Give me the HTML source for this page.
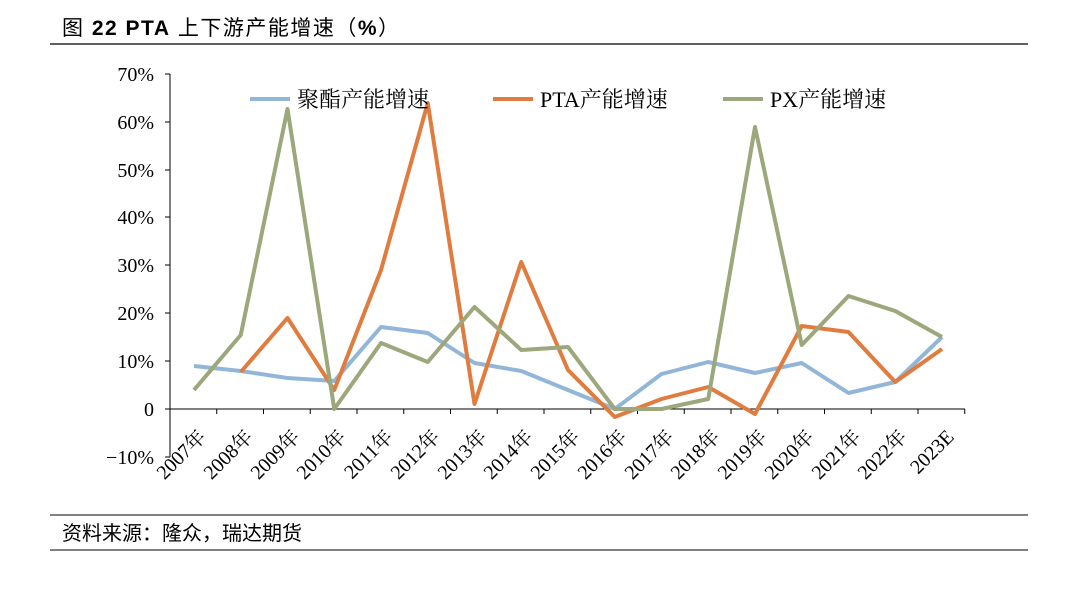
<!DOCTYPE html>
<html><head><meta charset="utf-8"><style>
body{margin:0;background:#fff;width:1080px;height:596px;overflow:hidden}
svg{display:block}
</style></head><body>
<svg width="1080" height="596" xmlns="http://www.w3.org/2000/svg">
<text x="62" y="35" font-family="Liberation Sans, Noto Sans CJK SC, sans-serif" font-size="21" letter-spacing="1.5" fill="#000">图 <tspan font-weight="bold">22</tspan>    <tspan font-weight="bold">PTA</tspan> 上下游产能增速（<tspan font-weight="bold">%</tspan>）</text>
<line x1="50" y1="44" x2="1028" y2="44" stroke="#000" stroke-width="1.2"/>
<line x1="50" y1="515" x2="1028" y2="515" stroke="#000" stroke-width="1"/>
<line x1="50" y1="550" x2="1028" y2="550" stroke="#000" stroke-width="1"/>
<text x="62" y="540" font-family="Liberation Sans, Noto Sans CJK SC, sans-serif" font-size="20" fill="#000">资料来源：隆众，瑞达期货</text>
<g font-family="Liberation Serif, Noto Serif CJK SC, serif" font-size="20" fill="#000" text-anchor="end">
<text x="154" y="81">70%</text><text x="154" y="129">60%</text><text x="154" y="177">50%</text>
<text x="154" y="224">40%</text><text x="154" y="272">30%</text><text x="154" y="320">20%</text>
<text x="154" y="368">10%</text><text x="154" y="416">0</text><text x="154" y="464">−10%</text>
</g>
<g stroke="#000" stroke-width="1">
<line x1="170" y1="74" x2="170" y2="457"/>
<line x1="170" y1="409" x2="965" y2="409"/>
<line x1="165" y1="74" x2="170" y2="74"/><line x1="165" y1="122" x2="170" y2="122"/><line x1="165" y1="170" x2="170" y2="170"/><line x1="165" y1="217" x2="170" y2="217"/><line x1="165" y1="265" x2="170" y2="265"/><line x1="165" y1="313" x2="170" y2="313"/><line x1="165" y1="361" x2="170" y2="361"/><line x1="165" y1="409" x2="170" y2="409"/><line x1="165" y1="457" x2="170" y2="457"/>
<line x1="216.75" y1="409" x2="216.75" y2="414"/><line x1="263.5" y1="409" x2="263.5" y2="414"/><line x1="310.25" y1="409" x2="310.25" y2="414"/><line x1="357" y1="409" x2="357" y2="414"/><line x1="403.75" y1="409" x2="403.75" y2="414"/><line x1="450.5" y1="409" x2="450.5" y2="414"/><line x1="497.25" y1="409" x2="497.25" y2="414"/><line x1="544" y1="409" x2="544" y2="414"/><line x1="590.75" y1="409" x2="590.75" y2="414"/><line x1="637.5" y1="409" x2="637.5" y2="414"/><line x1="684.25" y1="409" x2="684.25" y2="414"/><line x1="731" y1="409" x2="731" y2="414"/><line x1="777.75" y1="409" x2="777.75" y2="414"/><line x1="824.5" y1="409" x2="824.5" y2="414"/><line x1="871.25" y1="409" x2="871.25" y2="414"/><line x1="918" y1="409" x2="918" y2="414"/><line x1="964.75" y1="409" x2="964.75" y2="414"/>
</g>
<g font-family="Liberation Serif, Noto Serif CJK SC, serif" font-size="20" fill="#000" text-anchor="end">
<text transform="translate(207,438) rotate(-45)">2007年</text>
<text transform="translate(254,438) rotate(-45)">2008年</text>
<text transform="translate(301,438) rotate(-45)">2009年</text>
<text transform="translate(347,438) rotate(-45)">2010年</text>
<text transform="translate(394,438) rotate(-45)">2011年</text>
<text transform="translate(441,438) rotate(-45)">2012年</text>
<text transform="translate(488,438) rotate(-45)">2013年</text>
<text transform="translate(534,438) rotate(-45)">2014年</text>
<text transform="translate(581,438) rotate(-45)">2015年</text>
<text transform="translate(628,438) rotate(-45)">2016年</text>
<text transform="translate(675,438) rotate(-45)">2017年</text>
<text transform="translate(721,438) rotate(-45)">2018年</text>
<text transform="translate(768,438) rotate(-45)">2019年</text>
<text transform="translate(815,438) rotate(-45)">2020年</text>
<text transform="translate(862,438) rotate(-45)">2021年</text>
<text transform="translate(908,438) rotate(-45)">2022年</text>
<text transform="translate(955,438) rotate(-45)">2023E</text>
</g>
<g fill="none" stroke-width="4" stroke-linejoin="round">
<polyline stroke="#92b6d8" points="194,366 240.75,371 287.5,378 334.25,381 381,327 427.75,333 474.5,363 521.25,371 568,390 614.75,409 661.5,374 708.25,362 755,373 801.75,363 848.5,393 895.25,382 942,337"/>
<polyline stroke="#e07c3f" points="240.75,372 287.5,318 334.25,390 381,270 427.75,103 474.5,404 521.25,262 568,370 614.75,417 661.5,399 708.25,387 755,414 801.75,326 848.5,332 895.25,382 942,349"/>
<polyline stroke="#9ca77b" points="194,390 240.75,335 287.5,109 334.25,409 381,343 427.75,362 474.5,307 521.25,350 568,347 614.75,409 661.5,409 708.25,399 755,127 801.75,345 848.5,296 895.25,311 942,337"/>
</g>
<g font-family="Liberation Serif, Noto Serif CJK SC, serif" font-size="22" fill="#000">
<line x1="250" y1="99" x2="290" y2="99" stroke="#92b6d8" stroke-width="4"/>
<text x="297" y="107">聚酯产能增速</text>
<line x1="493" y1="99" x2="533" y2="99" stroke="#e07c3f" stroke-width="4"/>
<text x="540" y="107">PTA产能增速</text>
<line x1="723" y1="99" x2="763" y2="99" stroke="#9ca77b" stroke-width="4"/>
<text x="770" y="107">PX产能增速</text>
</g>
</svg>
</body></html>
